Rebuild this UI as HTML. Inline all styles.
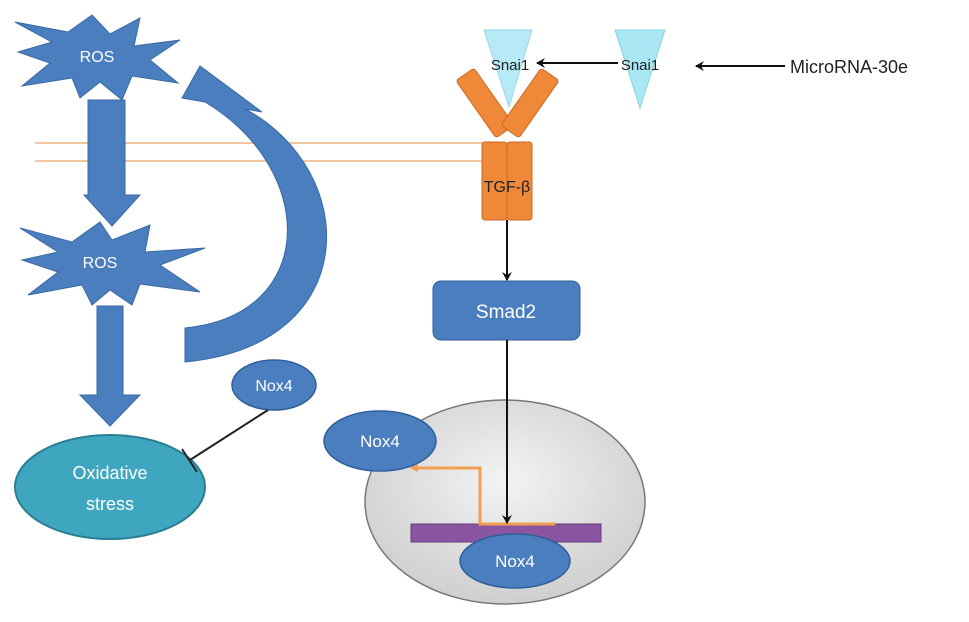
<!DOCTYPE html>
<html><head><meta charset="utf-8"><style>
html,body{margin:0;padding:0;background:#fff;}
svg{display:block;font-family:"Liberation Sans",sans-serif;}
</style></head><body>
<svg width="969" height="622" viewBox="0 0 969 622" xmlns="http://www.w3.org/2000/svg">
<defs>
<radialGradient id="g" cx="50%" cy="40%" r="60%"><stop offset="0" stop-color="#f3f3f3"/><stop offset="1" stop-color="#cfcfcf"/></radialGradient>
<marker id="ah" markerWidth="10" markerHeight="10" refX="8" refY="5" orient="auto" markerUnits="userSpaceOnUse"><path d="M0,0 L9,5 L0,10 L3,5 z" fill="#111"/></marker>
<marker id="ao" markerWidth="10" markerHeight="10" refX="6" refY="5" orient="auto" markerUnits="userSpaceOnUse"><path d="M0,1 L8,5 L0,9 z" fill="#f0a050"/></marker>
</defs>
<line x1="35" y1="143" x2="485" y2="143" stroke="#f2c7a0" stroke-width="2"/>
<line x1="35" y1="161" x2="485" y2="161" stroke="#f2c7a0" stroke-width="2"/>
<polygon points="15,22 68,32 92,15 110,34 140,18 134,46 180,40 150,60 178,83 132,76 122,100 100,82 80,98 72,78 22,86 50,63 18,52 52,42" fill="#4a7ebf" stroke="#3a6aa5" stroke-width="1"/>
<text x="97" y="62" fill="#fff" font-size="16" text-anchor="middle">ROS</text>
<polygon points="20,228 72,242 100,222 112,240 150,225 145,252 205,248 160,265 200,292 140,284 132,305 110,290 92,305 82,285 28,295 58,272 22,260 58,252" fill="#4a7ebf" stroke="#3a6aa5" stroke-width="1"/>
<text x="100" y="268" fill="#fff" font-size="16" text-anchor="middle">ROS</text>
<polygon points="88,100 125,100 125,195 140,195 112,226 84,195 88,195" fill="#4a7ebf" stroke="#3a6aa5"/>
<polygon points="97,306 123,306 123,395 140,395 110,426 80,395 97,395" fill="#4a7ebf" stroke="#3a6aa5"/>
<path d="M185,362 C365,345 360,170 245,109 L262,112 L200,66 L182,98 L205,102 C318,170 318,315 185,328 Z" fill="#4a7ebf" stroke="#3a6aa5"/>
<ellipse cx="110" cy="487" rx="95" ry="52" fill="#3ea6bf" stroke="#2a7f95" stroke-width="2"/>
<text x="110" y="479" fill="#fff" font-size="18" text-anchor="middle">Oxidative</text>
<text x="110" y="510" fill="#fff" font-size="18" text-anchor="middle">stress</text>
<ellipse cx="274" cy="385" rx="42" ry="25" fill="#4a7ebf" stroke="#2f5f9a" stroke-width="1.5"/>
<text x="274" y="391" fill="#fff" font-size="16" text-anchor="middle">Nox4</text>
<line x1="268" y1="410" x2="190" y2="460" stroke="#222" stroke-width="2"/>
<line x1="182" y1="449" x2="197" y2="472" stroke="#222" stroke-width="2"/>
<ellipse cx="505" cy="502" rx="140" ry="102" fill="url(#g)" stroke="#777" stroke-width="1.5"/>
<rect x="411" y="524" width="190" height="18" fill="#8a55a0" stroke="#6a3a80"/>
<polyline points="555,524 480,524 480,468 412,468" fill="none" stroke="#f0a050" stroke-width="3" marker-end="url(#ao)"/>
<ellipse cx="515" cy="561" rx="55" ry="27" fill="#4a7ebf" stroke="#2f5f9a" stroke-width="1.5"/>
<text x="515" y="567" fill="#fff" font-size="17" text-anchor="middle">Nox4</text>
<ellipse cx="380" cy="441" rx="56" ry="30" fill="#4a7ebf" stroke="#2f5f9a" stroke-width="1.5"/>
<text x="380" y="447" fill="#fff" font-size="17" text-anchor="middle">Nox4</text>
<rect x="482" y="142" width="25" height="78" rx="3" fill="#f0883a" stroke="#c96a20"/>
<rect x="507" y="142" width="25" height="78" rx="3" fill="#f0883a" stroke="#c96a20"/>
<rect x="-11" y="-35" width="22" height="70" rx="3" fill="#f0883a" stroke="#c96a20" transform="translate(485,103) rotate(-35)"/>
<rect x="-11" y="-35" width="22" height="70" rx="3" fill="#f0883a" stroke="#c96a20" transform="translate(530,103) rotate(35)"/>
<polygon points="484,30 532,30 509,107" fill="#a9e7f5" opacity="0.85" stroke="#8cd0e0"/>
<polygon points="615,30 665,30 640,108" fill="#a9e7f5" stroke="#8cd0e0"/>
<text x="510" y="70" fill="#222" font-size="15" text-anchor="middle">Snai1</text>
<text x="640" y="70" fill="#222" font-size="15" text-anchor="middle">Snai1</text>
<text x="507" y="192" fill="#222" font-size="16" text-anchor="middle">TGF-β</text>
<line x1="618" y1="63" x2="537" y2="63" stroke="#111" stroke-width="2" marker-end="url(#ah)"/>
<line x1="785" y1="66" x2="696" y2="66" stroke="#111" stroke-width="2" marker-end="url(#ah)"/>
<text x="790" y="73" fill="#222" font-size="18">MicroRNA-30e</text>
<line x1="507" y1="220" x2="507" y2="280" stroke="#111" stroke-width="2" marker-end="url(#ah)"/>
<rect x="433" y="281" width="147" height="59" rx="8" fill="#4a7ebf" stroke="#2f5f9a"/>
<text x="506" y="318" fill="#fff" font-size="19" text-anchor="middle">Smad2</text>
<line x1="507" y1="340" x2="507" y2="523" stroke="#111" stroke-width="2" marker-end="url(#ah)"/>
</svg>
</body></html>
